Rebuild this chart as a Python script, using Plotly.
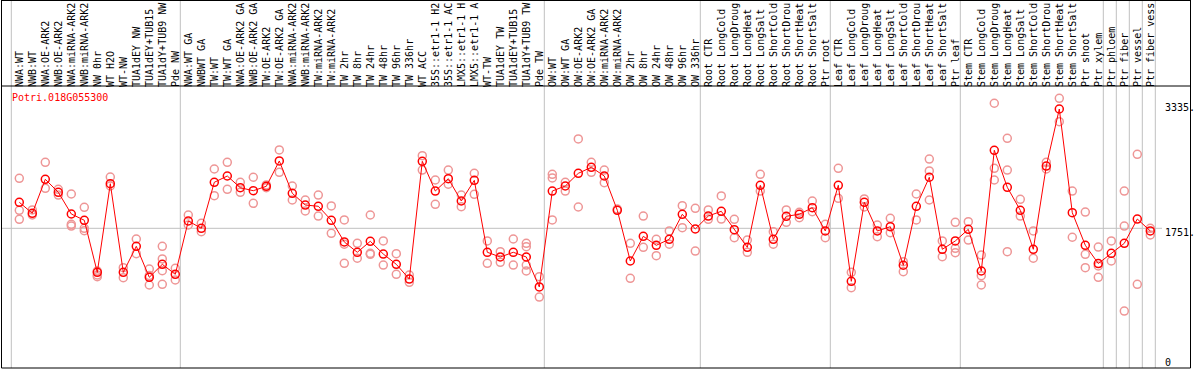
import plotly.graph_objects as go

gene = "Potri.018G055300"

categories = [
    "NWA:WT", "NWB:WT", "NWA:OE-ARK2", "NWB:OE-ARK2", "NWA:miRNA-ARK2", "NWB:miRNA-ARK2",
    "NW 0hr", "WT H2O", "WT-NW", "TUA1dEY NW", "TUA1dEY+TUB15", "TUA1dY+TUB9 NW", "Pde NW",
    "NWA:WT GA", "NWBWT GA", "TW:WT", "TW:WT GA", "NWA:OE-ARK2 GA", "NWB:OE-ARK2 GA",
    "TW:OE-ARK2", "TW:OE-ARK2 GA", "NWA:miRNA-ARK2", "NWB:miRNA-ARK2", "TW:miRNA-ARK2",
    "TW:miRNA-ARK2", "TW 2hr", "TW 8hr", "TW 24hr", "TW 48hr", "TW 96hr", "TW 336hr",
    "WT ACC", "35S::etr1-1 H2", "35S::etr1-1 AC", "LMX5::etr1-1 H", "LMX5::etr1-1 A",
    "WT-TW", "TUA1dEY TW", "TUA1dEY+TUB15", "TUA1dY+TUB9 TW", "Pde TW",
    "OW:WT", "OW:WT GA", "OW:OE-ARK2", "OW:OE-ARK2 GA", "OW:miRNA-ARK2", "OW:miRNA-ARK2",
    "OW 2hr", "OW 8hr", "OW 24hr", "OW 48hr", "OW 96hr", "OW 336hr",
    "Root CTR", "Root LongCold", "Root LongDroug", "Root LongHeat", "Root LongSalt",
    "Root ShortCold", "Root ShortDrou", "Root ShortHeat", "Root ShortSalt", "Ptr root",
    "Leaf CTR", "Leaf LongCold", "Leaf LongDroug", "Leaf LongHeat", "Leaf LongSalt",
    "Leaf ShortCold", "Leaf ShortDrou", "Leaf ShortHeat", "Leaf ShortSalt", "Ptr leaf",
    "Stem CTR", "Stem LongCold", "Stem LongDroug", "Stem LongHeat", "Stem LongSalt",
    "Stem ShortCold", "Stem ShortDrou", "Stem ShortHeat", "Stem ShortSalt", "Ptr shoot",
    "Ptr xylem", "Ptr phloem", "Ptr fiber", "Ptr vessel", "Ptr fiber vess",
]

means = [
    2082, 1942, 2374, 2209, 1933, 1853, 1191, 2318, 1191, 1522, 1128, 1293, 1166,
    1844, 1751, 2336, 2416, 2267, 2229, 2285, 2607, 2196, 2047, 2031, 1853, 1577,
    1446, 1586, 1424, 1293, 1106, 2603, 2225, 2382, 2098, 2361, 1446, 1386, 1446,
    1386, 1005,
    2225, 2289, 2450, 2527, 2416, 1980, 1335, 1649, 1535, 1611, 1929, 1742,
    1907, 1967, 1733, 1509, 2298, 1611, 1904, 1929, 2013, 1717,
    2298, 1077, 2082, 1717, 1771, 1281, 2031, 2400, 1484, 1590,
    1738, 1208, 2743, 2272, 1980, 1484, 2543, 3268, 1949, 1535,
    1303, 1433, 1560, 1869, 1717,
]

replicates = [
    [2387, 1980, 1865], [1984, 1920], [2590, 2260], [2247, 2174], [2187, 1802, 1780],
    [2018, 1751, 1720], [1208, 1157, 1136], [2403, 2289], [1250, 1123], [1615, 1428],
    [1233, 1030, 1150], [1522, 1361, 1212, 1039], [1242, 1094],
    [1920, 1793], [1815, 1708], [2505, 2166], [2590, 2247], [2336, 2209], [2400, 2069],
    [2302, 2267], [2747, 2463], [2289, 2111], [2111, 1971], [2174, 1907], [2035, 1687],
    [1857, 1548, 1306], [1560, 1370], [1920, 1433, 1420], [1590, 1284], [1428, 1166],
    [1157, 1064], [2674, 2492], [2365, 2056], [2492, 2311], [2174, 2026], [2450, 2183],
    [1590, 1306], [1453, 1319], [1615, 1284], [1560, 1517, 1284, 1208], [1136, 877],
    [2438, 2391, 1857], [2336, 2225], [2887, 2022], [2590, 2463], [2492, 2331],
    [1996], [1560, 1115], [1907, 1509], [1611, 1403], [1717, 1548], [2038, 1759],
    [2005, 1462],
    [1984, 1865], [2162, 1869], [1865, 1631], [1602, 1446], [2438, 2225], [1708, 1548],
    [1984, 1827], [1955, 1886], [2098, 1962], [1802, 1631],
    [2514, 2132], [1191, 996], [2124, 2022], [1793, 1644], [1878, 1695], [1326, 1199],
    [2187, 1857], [2632, 2480, 2111], [1590, 1390], [1827, 1497, 1441],
    [1835, 1602], [1411, 1148, 1030], [3341, 2514, 2365], [2895, 2492, 1453],
    [2120, 1907], [1717, 1370], [2590, 2505], [3404, 3107], [2225, 1637],
    [1958, 1420, 1250],
    [1513, 1272, 1128], [1590, 1335], [2225, 1780, 699], [2692, 1039], [1751, 1666],
]

y_tick_values = [3335, 1751, 0]
y_tick_text = ["3335.", "1751.", "0"]
group_starts = [0, 13, 41, 53, 63, 73, 84, 85, 86, 87]

W, H = 1194, 370
TOP, BOTTOM = 86, 368
PH = BOTTOM - TOP
COLW = 13.0
X0_PX = 19.3
UPP = 12.716  # data units per pixel
ZERO_PX = 366.0

x0 = -X0_PX / COLW
x1 = x0 + W / COLW
ymax = (ZERO_PX - TOP) * UPP
ymin = -(BOTTOM - ZERO_PX) * UPP

FONT = "DejaVu Sans Mono"
xs = list(range(len(categories)))

rx, ry = [], []
for i, reps in enumerate(replicates):
    for v in reps:
        rx.append(i)
        ry.append(v)

fig = go.Figure()
fig.add_trace(go.Scatter(
    x=rx, y=ry, mode="markers",
    marker=dict(symbol="circle-open", size=8, color="rgb(238,150,150)",
                line=dict(width=1.5, color="rgb(238,150,150)")),
    showlegend=False, hoverinfo="skip"))
fig.add_trace(go.Scatter(
    x=xs, y=means, mode="lines+markers",
    line=dict(color="rgb(255,0,0)", width=1),
    marker=dict(symbol="circle-open", size=8, color="rgb(255,0,0)",
                line=dict(width=1.5, color="rgb(255,0,0)")),
    showlegend=False))

def py(p):
    return (BOTTOM - p) / PH

shapes = []
for g in group_starts:
    shapes.append(dict(type="line", xref="x", yref="paper", x0=g - 8 / COLW, x1=g - 8 / COLW,
                       y0=0, y1=py(0), line=dict(color="rgb(192,192,192)", width=1), layer="below"))
shapes.append(dict(type="line", xref="x", yref="paper", x0=87 + 5 / COLW, x1=87 + 5 / COLW,
                   y0=0, y1=py(0), line=dict(color="rgb(192,192,192)", width=1), layer="below"))
shapes.append(dict(type="line", xref="paper", yref="y", x0=1 / W, x1=1162 / W,
                   y0=1751, y1=1751, line=dict(color="rgb(192,192,192)", width=1), layer="below"))
black = dict(color="black", width=1)
shapes += [
    dict(type="line", xref="paper", yref="paper", x0=1.5 / W, x1=1.5 / W, y0=0, y1=py(0), line=black),
    dict(type="line", xref="paper", yref="paper", x0=1190.5 / W, x1=1190.5 / W, y0=0, y1=py(0), line=black),
    dict(type="line", xref="paper", yref="paper", x0=1.5 / W, x1=1190.5 / W, y0=py(0.5), y1=py(0.5), line=black),
    dict(type="line", xref="paper", yref="paper", x0=1.5 / W, x1=1190.5 / W, y0=1, y1=1, line=black),
    dict(type="line", xref="paper", yref="paper", x0=1.5 / W, x1=1190.5 / W, y0=0, y1=0, line=black),
]

annotations = [dict(text=gene, xref="paper", yref="paper", x=10 / W, y=py(97),
                    xanchor="left", yanchor="middle", showarrow=False,
                    font=dict(family=FONT, size=10, color="rgb(255,0,0)"))]
for v, t in zip(y_tick_values, y_tick_text):
    annotations.append(dict(text=t, xref="paper", yref="y", x=1163 / W, y=v,
                            xanchor="left", yanchor="middle", showarrow=False,
                            yshift=(4 if v == 0 else -4),
                            font=dict(family=FONT, size=10, color="black")))

fig.update_layout(
    width=W, height=H,
    margin=dict(l=0, r=0, t=TOP, b=H - BOTTOM, pad=0),
    paper_bgcolor="white", plot_bgcolor="white",
    xaxis=dict(range=[x0, x1], side="top", tickmode="array", tickvals=xs, ticktext=categories,
               tickangle=-90, ticks="", ticklabelstandoff=-2, showgrid=False, zeroline=False,
               showline=False, automargin=False,
               tickfont=dict(family=FONT, size=10, color="black")),
    yaxis=dict(range=[ymin, ymax], showticklabels=False, showgrid=False, zeroline=False,
               showline=False, automargin=False),
    shapes=shapes, annotations=annotations,
)

fig.write_html("out.html", config={"displayModeBar": False},
               post_script="document.body.style.margin='0';")
